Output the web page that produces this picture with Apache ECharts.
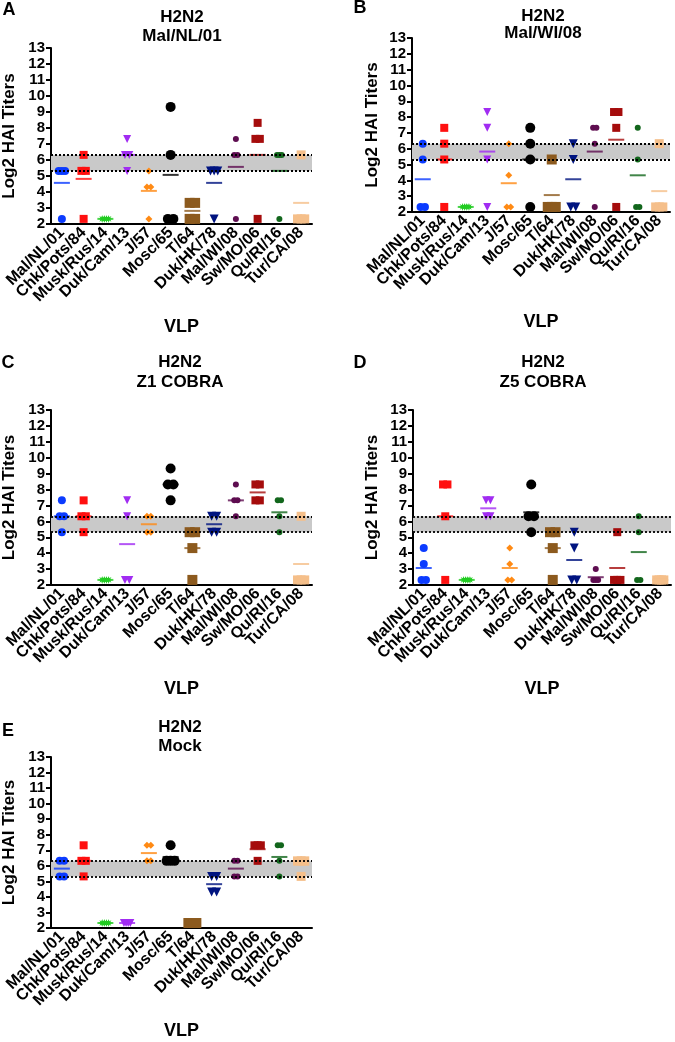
<!DOCTYPE html>
<html>
<head>
<meta charset="utf-8">
<style>
html, body { margin: 0; padding: 0; background: #fff; }
#chart { width: 675px; height: 1042px; }
</style>
<script src="https://cdn.jsdelivr.net/npm/echarts@6/dist/echarts.min.js"></script>
</head>
<body>
<div id="chart"></div>
<script>
// VLP strains on the x axis
const categories = ['Mal/NL/01', 'Chk/Pots/84', 'Musk/Rus/14', 'Duk/Cam/13', 'J/57', 'Mosc/65',
    'T/64', 'Duk/HK/78', 'Mal/WI/08', 'Sw/MO/06', 'Qu/RI/16', 'Tur/CA/08'];
const yRange = [2, 13];
const bandLimits = [5.32, 6.32];

// log2 HAI titers, one array per VLP (same order as categories)
const malNL01 = [
    [5.32, 5.32, 5.32, 2.32], [6.32, 5.32, 5.32, 2.32], [2.32, 2.32, 2.32, 2.32], [7.32, 6.32, 6.32, 5.32],
    [5.32, 4.32, 4.32, 2.32], [9.32, 6.32, 2.32, 2.32], [3.32, 3.32, 2.32, 2.32], [5.32, 5.32, 5.32, 2.32],
    [7.32, 6.32, 6.32, 2.32], [8.32, 7.32, 7.32, 2.32], [6.32, 6.32, 6.32, 2.32], [6.32, 2.32, 2.32, 2.32]
];
const malWI08 = [
    [6.32, 5.32, 2.32, 2.32], [7.32, 6.32, 5.32, 2.32], [2.32, 2.32, 2.32, 2.32], [8.32, 7.32, 5.32, 2.32],
    [6.32, 4.32, 2.32, 2.32], [7.32, 6.32, 5.32, 2.32], [5.32, 2.32, 2.32, 2.32], [6.32, 5.32, 2.32, 2.32],
    [7.32, 7.32, 6.32, 2.32], [8.32, 8.32, 7.32, 2.32], [7.32, 5.32, 2.32, 2.32], [6.32, 2.32, 2.32, 2.32]
];
const z1Cobra = [
    [7.32, 6.32, 6.32, 5.32], [7.32, 6.32, 6.32, 5.32], [2.32, 2.32, 2.32, 2.32], [7.32, 6.32, 2.32, 2.32],
    [6.32, 6.32, 5.32, 5.32], [9.32, 8.32, 8.32, 7.32], [5.32, 5.32, 4.32, 2.32], [6.32, 6.32, 5.32, 5.32],
    [8.32, 7.32, 7.32, 6.32], [8.32, 8.32, 7.32, 7.32], [7.32, 7.32, 6.32, 5.32], [6.32, 2.32, 2.32, 2.32]
];
const z5Cobra = [
    [4.32, 3.32, 2.32, 2.32], [8.32, 8.32, 6.32, 2.32], [2.32, 2.32, 2.32, 2.32], [7.32, 7.32, 6.32, 6.32],
    [4.32, 3.32, 2.32, 2.32], [8.32, 6.32, 6.32, 5.32], [5.32, 5.32, 4.32, 2.32], [5.32, 4.32, 2.32, 2.32],
    [3.0, 2.32, 2.32, 2.32], [5.32, 2.32, 2.32, 2.32], [6.32, 5.32, 2.32, 2.32], [2.32, 2.32, 2.32, 2.32]
];
const mock = [
    [6.32, 6.32, 5.32, 5.32], [7.32, 6.32, 6.32, 5.32], [2.32, 2.32, 2.32, 2.32], [2.32, 2.32, 2.32, 2.32],
    [7.32, 7.32, 6.32, 6.32], [7.32, 6.32, 6.32, 6.32], [2.32, 2.32, 2.32, 2.32], [5.32, 5.32, 4.32, 4.32],
    [6.32, 6.32, 5.32, 5.32], [7.32, 7.32, 7.32, 6.32], [7.32, 7.32, 6.32, 5.32], [6.32, 6.32, 6.32, 5.32]
];

const FONT = '"Liberation Sans", Arial, sans-serif';

// 8 point star for the green group
function starPath(n, inner) {
    let d = '';
    for (let i = 0; i < 2 * n; i++) {
        const r = i % 2 ? inner : 1;
        const a = Math.PI * i / n - Math.PI / 2;
        d += (i ? 'L' : 'M') + (50 + 50 * r * Math.cos(a)).toFixed(1) + ' ' + (50 + 50 * r * Math.sin(a)).toFixed(1);
    }
    return 'path://' + d + 'Z';
}

const marks = [
    { color: '#0b3bff', symbol: 'circle', size: 8 },
    { color: '#ff1010', symbol: 'rect', size: 8 },
    { color: '#22cc22', symbol: starPath(8, 0.45), size: 8 },
    { color: '#a12cf2', symbol: 'triangle', size: 8, rotate: 180 },
    { color: '#ff8a14', symbol: 'diamond', size: 7 },
    { color: '#000000', symbol: 'circle', size: 10 },
    { color: '#8c5a1e', symbol: 'rect', size: 10 },
    { color: '#001480', symbol: 'triangle', size: 9, rotate: 180 },
    { color: '#5e0d50', symbol: 'circle', size: 6 },
    { color: '#a50c0c', symbol: 'rect', size: 8 },
    { color: '#12661c', symbol: 'circle', size: 6 },
    { color: '#f5bf8a', symbol: 'rect', size: 9 }
];

const panels = [
    { data: malNL01, letter: 'A', name: 'Mal/NL/01', grid: { left: 51, top: 48, width: 261, height: 176 },
      letterAt: [9, 10], titleAt: [182, 17, 36], yNameX: 9, vlpY: 327 },
    { data: malWI08, letter: 'B', name: 'Mal/WI/08', grid: { left: 412, top: 38, width: 258, height: 174 },
      letterAt: [360, 8], titleAt: [543, 16, 33], yNameX: 372, vlpY: 322 },
    { data: z1Cobra, letter: 'C', name: 'Z1 COBRA', grid: { left: 51, top: 410, width: 261, height: 175 },
      letterAt: [8, 363], titleAt: [180, 362, 382], yNameX: 9, vlpY: 689 },
    { data: z5Cobra, letter: 'D', name: 'Z5 COBRA', grid: { left: 413, top: 410, width: 258, height: 175 },
      letterAt: [360, 363], titleAt: [543, 362, 382], yNameX: 372, vlpY: 689 },
    { data: mock, letter: 'E', name: 'Mock', grid: { left: 51, top: 757, width: 261, height: 171 },
      letterAt: [8, 731], titleAt: [180, 727, 746], yNameX: 9, vlpY: 1031 }
];

// spread equal values sideways, like a scatter dot plot
function spread(values, size) {
    const count = {}, seen = {};
    values.forEach(v => { count[v] = (count[v] || 0) + 1; });
    return values.map(v => {
        const k = count[v];
        const j = seen[v] = (seen[v] || 0) + 1;
        const step = k > 1 ? Math.min(size * 0.55, size * 0.8 / (k - 1)) : 0;
        return (j - 1 - (k - 1) / 2) * step;
    });
}

function text(x, y, str, size, rotation) {
    return {
        type: 'text', x: x, y: y, rotation: rotation || 0, silent: true,
        style: { text: str, font: 'bold ' + size + 'px ' + FONT, fill: '#000',
            textAlign: 'center', align: 'center', textVerticalAlign: 'middle', verticalAlign: 'middle' }
    };
}

const grids = [], xAxes = [], yAxes = [], series = [], graphics = [];

panels.forEach(function (p, pi) {
    grids.push(p.grid);
    xAxes.push({
        type: 'category', gridIndex: pi, data: categories, boundaryGap: true,
        axisLine: { lineStyle: { color: '#000', width: 2 } },
        axisTick: { alignWithLabel: true, length: 5, lineStyle: { color: '#000', width: 2 } },
        axisLabel: { interval: 0, rotate: 45, margin: 6, color: '#000', fontWeight: 'bold', fontSize: 16, fontFamily: FONT },
        splitLine: { show: false }
    });
    yAxes.push({
        type: 'value', gridIndex: pi, min: yRange[0], max: yRange[1], interval: 1,
        axisLine: { show: true, lineStyle: { color: '#000', width: 2 } },
        axisTick: { show: true, length: 5, lineStyle: { color: '#000', width: 2 } },
        axisLabel: { margin: 6, color: '#000', fontWeight: 'bold', fontSize: 15, fontFamily: FONT },
        splitLine: { show: false }
    });

    // grey band with dotted limits
    series.push({
        type: 'line', xAxisIndex: pi, yAxisIndex: pi, data: [], z: 1, silent: true,
        markArea: { silent: true, itemStyle: { color: '#c9c9c9' },
            data: [[{ yAxis: bandLimits[0] }, { yAxis: bandLimits[1] }]] },
        markLine: { silent: true, symbol: 'none', label: { show: false },
            lineStyle: { color: '#000', width: 1.8, type: [2, 2] },
            data: bandLimits.map(v => ({ yAxis: v })) }
    });

    p.data.forEach(function (vals, ci) {
        const m = marks[ci];
        const offs = spread(vals, m.size);
        series.push({
            type: 'scatter', xAxisIndex: pi, yAxisIndex: pi, z: 3, silent: true,
            symbol: m.symbol, symbolSize: m.size, symbolRotate: m.rotate || 0,
            itemStyle: { color: m.color, opacity: 1 },
            data: vals.map((v, j) => ({ value: [ci, v], symbolOffset: [offs[j], 0] }))
        });
    });

    // group means
    series.push({
        type: 'scatter', xAxisIndex: pi, yAxisIndex: pi, z: 4, silent: true,
        symbol: 'rect', symbolSize: [16, 2],
        data: p.data.map((vals, ci) => ({
            value: [ci, vals.reduce((a, b) => a + b, 0) / vals.length],
            itemStyle: { color: marks[ci].color }
        }))
    });

    const cx = p.grid.left + p.grid.width / 2;
    graphics.push(text(p.letterAt[0], p.letterAt[1], p.letter, 18));
    graphics.push(text(p.titleAt[0], p.titleAt[1], 'H2N2', 17));
    graphics.push(text(p.titleAt[0], p.titleAt[2], p.name, 17));
    graphics.push(text(p.yNameX, p.grid.top + p.grid.height / 2, 'Log2 HAI Titers', 17, Math.PI / 2));
    graphics.push(text(cx, p.vlpY, 'VLP', 18));
});

let myChart = echarts.init(document.getElementById('chart'));
myChart.setOption({
    animation: false,
    grid: grids,
    xAxis: xAxes,
    yAxis: yAxes,
    series: series,
    graphic: graphics
});
</script>
</body>
</html>
